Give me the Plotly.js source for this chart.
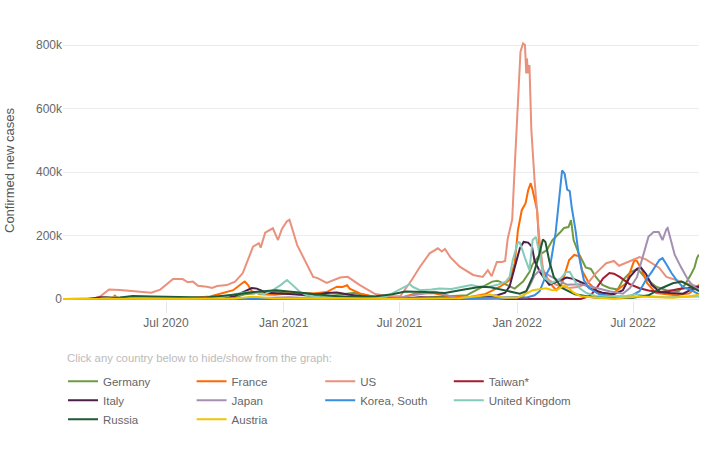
<!DOCTYPE html>
<html>
<head>
<meta charset="utf-8">
<script src="https://cdn.plot.ly/plotly-3.0.1.min.js"></script>
<style>html,body{margin:0;padding:0;background:#fff}#chart{width:720px;height:450px}</style>
</head>
<body>
<div id="chart"></div>
<script>
// ---- Data (7-day average of daily confirmed new cases) ----
const countries = ["Germany","France","US","Taiwan*","Italy","Japan","Korea, South","United Kingdom","Russia","Austria"];
const colors = ["#6f9a44","#ff6a00","#ea917b","#a51c30","#4b1f48","#a58fb0","#3a8ee0","#86cab9","#1f5a36","#f2c500"];

const germanyDates = ["2020-01-22","2020-03-10","2020-03-28","2020-04-12","2020-05-10","2020-07-15","2020-09-01","2020-10-15","2020-11-01","2020-11-20","2020-12-20","2021-01-10","2021-02-15","2021-03-15","2021-04-20","2021-05-20","2021-06-20","2021-08-15","2021-09-10","2021-10-14","2021-10-20","2021-11-15","2021-11-23","2021-12-01","2021-12-10","2021-12-20","2021-12-28","2022-01-10","2022-01-20","2022-01-25","2022-02-05","2022-02-16","2022-02-25","2022-03-08","2022-03-15","2022-03-22","2022-03-26","2022-03-30","2022-04-07","2022-04-18","2022-04-26","2022-05-04","2022-05-14","2022-05-25","2022-06-07","2022-06-15","2022-06-27","2022-07-08","2022-07-21","2022-08-06","2022-08-22","2022-09-10","2022-09-20","2022-09-30","2022-10-05","2022-10-09","2022-10-12"];
const germanyValues = [0,500,5500,4000,1000,500,1500,5000,15000,19000,25000,18000,8000,10000,20000,8000,1000,5000,8000,12000,19000,45000,55000,58000,50000,39000,33000,55000,85000,110000,140000,154000,186000,208000,224000,227000,249000,186000,144000,100000,95000,69000,45000,35000,30000,60000,85000,95000,65000,39000,28000,25000,45000,80000,100000,130000,140000];

const franceDates = ["2020-01-22","2020-03-15","2020-04-08","2020-04-12","2020-04-16","2020-05-10","2020-07-15","2020-09-08","2020-10-14","2020-10-28","2020-11-01","2020-11-06","2020-11-12","2020-11-25","2020-12-18","2021-01-18","2021-02-16","2021-03-09","2021-03-25","2021-04-03","2021-04-10","2021-04-14","2021-04-30","2021-05-16","2021-06-08","2021-07-02","2021-07-25","2021-08-22","2021-09-18","2021-10-14","2021-11-11","2021-12-05","2021-12-20","2021-12-28","2022-01-02","2022-01-08","2022-01-14","2022-01-18","2022-01-22","2022-01-25","2022-02-01","2022-02-04","2022-02-10","2022-02-21","2022-03-03","2022-03-12","2022-03-23","2022-03-31","2022-04-08","2022-04-12","2022-04-23","2022-05-09","2022-05-29","2022-06-20","2022-07-03","2022-07-07","2022-07-15","2022-07-23","2022-08-06","2022-09-06","2022-09-27","2022-10-09","2022-10-12"];
const franceValues = [0,1000,3000,11000,4000,1000,500,8000,28000,50000,55000,45000,25000,15000,14000,20000,18000,22000,39000,38000,44000,33000,18000,10000,3000,3000,18000,19000,8000,5000,15000,39000,60000,113000,217000,280000,302000,343000,365000,343000,280000,176000,91000,50000,28000,50000,123000,139000,135000,91000,50000,19000,15000,50000,123000,120000,91000,50000,19000,12000,18000,39000,45000];

const usDates = ["2020-01-22","2020-03-08","2020-03-20","2020-04-03","2020-04-20","2020-05-15","2020-06-08","2020-06-22","2020-07-12","2020-07-27","2020-08-04","2020-08-12","2020-08-20","2020-09-03","2020-09-11","2020-09-19","2020-10-04","2020-10-17","2020-10-29","2020-11-14","2020-11-23","2020-11-26","2020-12-03","2020-12-15","2020-12-23","2020-12-29","2021-01-06","2021-01-10","2021-01-22","2021-02-16","2021-02-23","2021-03-09","2021-03-30","2021-04-11","2021-04-30","2021-05-24","2021-06-11","2021-07-02","2021-07-20","2021-08-02","2021-08-17","2021-08-30","2021-09-05","2021-09-10","2021-09-18","2021-10-03","2021-10-24","2021-11-08","2021-11-16","2021-11-22","2021-11-30","2021-12-08","2021-12-13","2021-12-17","2021-12-24","2021-12-28","2021-12-31","2022-01-06","2022-01-10","2022-01-13","2022-01-15","2022-01-16","2022-01-18","2022-01-20","2022-01-23","2022-01-28","2022-02-04","2022-02-10","2022-02-18","2022-03-03","2022-03-23","2022-04-08","2022-04-23","2022-05-04","2022-05-20","2022-06-01","2022-06-09","2022-06-20","2022-06-30","2022-07-11","2022-07-21","2022-07-31","2022-08-11","2022-08-22","2022-09-06","2022-09-22","2022-10-12"];
const usValues = [0,500,8000,30000,29000,24000,20000,30000,63000,63000,53000,55000,42000,39000,35000,41000,44000,55000,82000,165000,176000,162000,209000,223000,186000,220000,245000,250000,170000,70000,66000,51000,68000,70000,44000,16000,10000,9000,60000,102000,144000,160000,150000,158000,133000,102000,76000,70000,91000,72000,117000,117000,120000,190000,250000,417000,532000,779000,805000,800000,711000,758000,711000,737000,532000,375000,200000,95000,62000,45000,35000,39000,55000,82000,113000,120000,105000,115000,123000,132000,125000,113000,98000,70000,60000,50000,39000];

const taiwanDates = ["2020-01-22","2021-05-20","2021-06-10","2021-07-10","2022-04-10","2022-04-25","2022-05-05","2022-05-15","2022-05-25","2022-06-01","2022-06-10","2022-06-25","2022-07-10","2022-07-25","2022-08-10","2022-08-25","2022-09-10","2022-09-25","2022-10-12"];
const taiwanValues = [0,300,500,100,500,10000,35000,65000,82000,80000,70000,48000,35000,27000,22000,25000,32000,35000,40000];

const italyDates = ["2020-01-22","2020-03-01","2020-03-21","2020-05-01","2020-07-15","2020-10-01","2020-10-17","2020-11-05","2020-11-12","2020-11-20","2020-12-05","2021-01-15","2021-02-16","2021-03-09","2021-03-25","2021-04-14","2021-04-30","2021-05-31","2021-07-02","2021-08-02","2021-10-03","2021-11-03","2021-12-01","2021-12-13","2021-12-20","2021-12-31","2022-01-05","2022-01-11","2022-01-18","2022-01-24","2022-01-28","2022-02-07","2022-02-20","2022-03-08","2022-03-19","2022-03-31","2022-04-14","2022-04-26","2022-05-14","2022-06-01","2022-06-15","2022-06-26","2022-07-07","2022-07-13","2022-07-21","2022-07-30","2022-08-12","2022-08-28","2022-09-17","2022-10-03","2022-10-12"];
const italyValues = [0,200,5500,1500,200,2000,10000,30000,35000,33000,20000,15000,12000,19000,21000,14000,10000,3000,1000,6000,3000,5000,12000,20000,40000,123000,160000,180000,178000,165000,120000,80000,45000,58000,68000,63000,50000,32000,20000,15000,28000,70000,95000,100000,80000,45000,22000,19000,17000,33000,39000];

const japanDates = ["2020-01-22","2020-04-15","2020-06-01","2020-08-07","2020-10-01","2021-01-10","2021-03-01","2021-05-10","2021-06-20","2021-08-25","2021-10-01","2021-12-01","2022-01-10","2022-01-20","2022-01-28","2022-02-05","2022-02-16","2022-02-28","2022-03-20","2022-04-10","2022-05-05","2022-05-25","2022-06-15","2022-06-26","2022-07-07","2022-07-17","2022-07-25","2022-08-02","2022-08-10","2022-08-16","2022-08-22","2022-08-24","2022-08-30","2022-09-04","2022-09-14","2022-09-25","2022-10-04","2022-10-12"];
const japanValues = [0,500,100,1300,500,6000,1000,5500,1500,23000,2000,100,8000,40000,75000,91000,78000,65000,45000,47000,35000,25000,17000,35000,69000,144000,196000,211000,211000,186000,220000,224000,180000,140000,100000,60000,39000,30000];

const koreaDates = ["2020-01-22","2020-03-01","2020-04-01","2020-12-25","2021-05-01","2021-10-01","2021-12-20","2022-01-16","2022-01-28","2022-02-05","2022-02-16","2022-02-21","2022-03-02","2022-03-08","2022-03-12","2022-03-16","2022-03-20","2022-03-24","2022-03-27","2022-04-02","2022-04-07","2022-04-15","2022-04-23","2022-05-09","2022-06-01","2022-06-25","2022-07-11","2022-07-21","2022-07-31","2022-08-11","2022-08-16","2022-08-22","2022-08-30","2022-09-07","2022-09-16","2022-09-30","2022-10-12"];
const koreaValues = [0,600,100,1000,600,2500,6000,5000,12000,25000,80000,100000,210000,321000,405000,395000,345000,340000,290000,217000,140000,60000,35000,15000,8000,7000,25000,60000,88000,123000,129000,110000,82000,60000,39000,28000,15000];

const ukDates = ["2020-01-22","2020-03-20","2020-04-12","2020-06-01","2020-08-01","2020-09-20","2020-10-15","2020-11-10","2020-12-01","2020-12-15","2020-12-27","2021-01-06","2021-01-15","2021-01-26","2021-02-06","2021-02-26","2021-04-15","2021-05-15","2021-06-10","2021-06-30","2021-07-17","2021-07-22","2021-08-02","2021-08-20","2021-09-01","2021-09-20","2021-10-14","2021-10-21","2021-11-04","2021-11-20","2021-12-01","2021-12-14","2021-12-20","2021-12-25","2022-01-02","2022-01-05","2022-01-13","2022-01-20","2022-01-25","2022-01-30","2022-02-04","2022-02-11","2022-02-23","2022-03-10","2022-03-18","2022-03-24","2022-03-31","2022-04-08","2022-04-19","2022-05-04","2022-05-25","2022-06-20","2022-07-05","2022-07-20","2022-08-20","2022-09-20","2022-10-12"];
const ukValues = [0,1000,5000,1500,800,4000,15000,23000,15000,28000,44000,60000,44000,23000,12000,6000,3000,2000,8000,28000,47000,38000,28000,30000,33000,32000,40000,44000,38000,40000,45000,55000,70000,123000,180000,178000,130000,91000,186000,196000,150000,70000,50000,65000,85000,86000,60000,35000,19000,10000,8000,10000,15000,10000,6000,6000,8000];

const russiaDates = ["2020-01-22","2020-03-25","2020-04-20","2020-05-10","2020-06-10","2020-07-15","2020-09-01","2020-10-15","2020-11-15","2020-12-20","2021-01-15","2021-02-15","2021-03-25","2021-04-30","2021-05-25","2021-06-20","2021-07-10","2021-08-10","2021-09-10","2021-10-10","2021-11-05","2021-11-20","2021-12-15","2022-01-05","2022-01-15","2022-01-25","2022-02-03","2022-02-10","2022-02-14","2022-02-20","2022-02-27","2022-03-12","2022-04-01","2022-05-01","2022-06-01","2022-07-01","2022-07-25","2022-08-15","2022-09-01","2022-09-15","2022-09-25","2022-10-12"];
const russiaValues = [0,200,5000,10000,8000,6000,5000,14000,22000,28000,23000,17000,9000,8000,9000,15000,24000,22000,19000,30000,39000,37000,25000,17000,25000,70000,130000,188000,180000,120000,70000,35000,15000,5000,3000,4000,12000,35000,50000,55000,45000,25000];

const austriaDates = ["2020-01-22","2020-04-01","2020-06-01","2020-10-15","2020-11-12","2020-12-15","2021-01-20","2021-03-20","2021-06-15","2021-10-01","2021-11-20","2021-12-10","2021-12-31","2022-01-10","2022-01-25","2022-02-05","2022-02-15","2022-02-25","2022-03-05","2022-03-15","2022-03-20","2022-03-30","2022-04-10","2022-05-05","2022-06-01","2022-07-10","2022-08-01","2022-09-01","2022-09-25","2022-10-12"];
const austriaValues = [0,600,50,1500,7500,3000,1800,3000,100,3000,14000,5000,4000,12000,28000,32000,34000,28000,30000,43000,38000,20000,9000,4000,2000,8000,6000,4000,8000,14000];

const yTickVals = [0, 200000, 400000, 600000, 800000];
const yTickText = ["0", "200k", "400k", "600k", "800k"];
const legendTitle = "Click any country below to hide/show from the graph:";
const yTitle = "Confirmed new cases";

// ---- Build traces ----
const seriesDates = [germanyDates, franceDates, usDates, taiwanDates, italyDates, japanDates, koreaDates, ukDates, russiaDates, austriaDates];
const seriesValues = [germanyValues, franceValues, usValues, taiwanValues, italyValues, japanValues, koreaValues, ukValues, russiaValues, austriaValues];

const traces = countries.map((name, i) => ({
  type: "scatter",
  mode: "lines",
  name: name,
  x: seriesDates[i],
  y: seriesValues[i],
  line: {color: colors[i], width: 2},
  hoverinfo: "x+y+name"
}));

const layout = {
  width: 720,
  height: 450,
  margin: {l: 63, r: 21, t: 40, b: 149, autoexpand: false},
  paper_bgcolor: "#fff",
  plot_bgcolor: "#fff",
  font: {family: "Liberation Sans, Arial, sans-serif", size: 12, color: "#666"},
  showlegend: true,
  xaxis: {
    type: "date",
    range: ["2020-01-22", "2022-10-12"],
    tick0: "2020-01-01",
    dtick: "M6",
    tickformat: "%b %Y",
    showgrid: false,
    zeroline: false,
    showline: false,
    ticks: "outside",
    ticklen: 11,
    tickcolor: "#e6e6e6",
    tickfont: {size: 12, color: "#666"}
  },
  yaxis: {
    range: [-6000, 816000],
    tickvals: yTickVals,
    ticktext: yTickText,
    showgrid: true,
    gridcolor: "#ececec",
    zeroline: false,
    showline: false,
    ticks: "",
    tickfont: {size: 12, color: "#666"},
    title: {text: yTitle, font: {size: 13, color: "#555"}, standoff: 18}
  },
  legend: {
    orientation: "h",
    x: 0,
    xanchor: "left",
    y: -0.252,
    yanchor: "top",
    entrywidth: 83.6,
    entrywidthmode: "pixels",
    traceorder: "normal",
    font: {size: 11.5, color: "#666"},
    tracegroupgap: 0,
    itemwidth: 30
  },
  annotations: [{
    text: legendTitle,
    xref: "paper", yref: "paper",
    x: 0.003, y: -0.218,
    xanchor: "left", yanchor: "middle",
    showarrow: false,
    font: {size: 11.3, color: "#bbb"}
  }]
};

Plotly.newPlot("chart", traces, layout, {displayModeBar: false});
</script>
</body>
</html>
